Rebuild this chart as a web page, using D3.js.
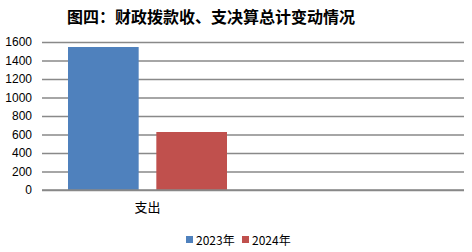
<!DOCTYPE html>
<html><head><meta charset="utf-8">
<script src="https://cdn.jsdelivr.net/npm/d3@7"></script>
<style>body{margin:0;background:#fff}</style>
</head><body><svg id="c" width="472" height="252"></svg>
<script>
const categories = ["支出", ""];
const seriesNames = ["2023年", "2024年"];
const values2023 = [1546, null];
const values2024 = [627, null];
const yTicks = [0, 200, 400, 600, 800, 1000, 1200, 1400, 1600];
const colors = ["#4F81BD", "#C0504D"];
const title = "图四：财政拨款收、支决算总计变动情况";

(function () {
const svg = d3.select("#c");
const mLeft = 42, mRight = 464, mTop = 42, mBottom = 190;
const y = d3.scaleLinear().domain([0, 1600]).range([mBottom, mTop]);
const x0 = d3.scaleBand().domain(categories).range([mLeft, mRight]);
const x1 = d3.scaleBand().domain(seriesNames).range([26, x0.bandwidth() - 26]).paddingInner(0.2);

svg.append("text").attr("x", 211).attr("y", 23).attr("text-anchor", "middle")
  .attr("font-family", "'Noto Sans CJK SC', sans-serif").attr("font-weight", 700)
  .attr("font-size", 16).attr("fill", "#000").text(title);

const yAxis = d3.axisLeft(y).tickValues(yTicks).tickFormat(d3.format("d"))
  .tickSize(-(mRight - mLeft)).tickPadding(10);
const ga = svg.append("g").attr("transform", `translate(${mLeft},0)`).call(yAxis);
ga.select(".domain").remove();
ga.selectAll(".tick line").attr("stroke", "#898989").attr("stroke-width", 1.5);
ga.selectAll(".tick text").attr("font-family", "'Liberation Sans', Arial, sans-serif")
  .attr("font-size", 12).attr("fill", "#000");

const series = [values2023, values2024];
series.forEach((vals, si) => {
  svg.append("g").selectAll("rect").data(categories.map((c, i) => ({c, v: vals[i]})).filter(d => d.v != null))
    .join("rect")
    .attr("x", d => x0(d.c) + x1(seriesNames[si]))
    .attr("width", x1.bandwidth())
    .attr("y", d => y(d.v))
    .attr("height", d => y(0) - y(d.v))
    .attr("fill", colors[si]);
});

svg.append("line").attr("x1", mLeft).attr("x2", mRight).attr("y1", y(0)).attr("y2", y(0))
  .attr("stroke", "#898989").attr("stroke-width", 1.5);

svg.append("text").attr("x", x0(categories[0]) + x0.bandwidth() / 2).attr("y", 212)
  .attr("text-anchor", "middle").attr("font-family", "'Noto Sans CJK SC', sans-serif")
  .attr("font-size", 13).attr("fill", "#000").text(categories[0]);

const legend = svg.append("g");
const lx = [186, 242];
seriesNames.forEach((s, i) => {
  legend.append("rect").attr("x", lx[i]).attr("y", 236).attr("width", 7).attr("height", 7).attr("fill", colors[i]);
  legend.append("text").attr("x", lx[i] + 10).attr("y", 244.5)
    .attr("font-family", "'Noto Sans CJK SC', sans-serif").attr("font-size", 12)
    .attr("fill", "#000").text(s);
});
})();
</script></body></html>
